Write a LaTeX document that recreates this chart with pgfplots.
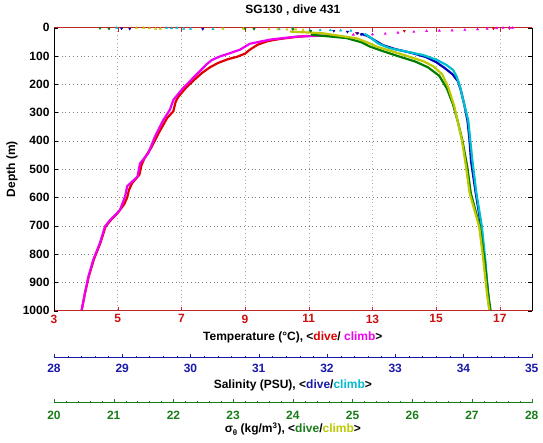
\documentclass[border=0pt]{standalone}
\usepackage{fontspec}
\setmainfont{Liberation Sans}[UprightFont=* Bold, BoldFont=* Bold]
\usepackage{pgfplots}
\pgfplotsset{compat=1.18}
\definecolor{tred}{RGB}{205,15,15}
\definecolor{taxis}{RGB}{190,40,40}
\definecolor{tdive}{RGB}{225,0,0}
\definecolor{tclimb}{RGB}{240,0,240}
\definecolor{sblue}{RGB}{25,25,170}
\definecolor{sdive}{RGB}{0,0,190}
\definecolor{scyan}{RGB}{0,190,205}
\definecolor{ggreen}{RGB}{25,125,25}
\definecolor{gdive}{RGB}{0,125,0}
\definecolor{gyellow}{RGB}{190,200,0}
\definecolor{tgrid}{RGB}{200,160,160}
\begin{document}
\begin{tikzpicture}[font=\bfseries\fontsize{12}{14}\selectfont]
\useasboundingbox (-54pt,-131.4pt) rectangle (489pt,310.6pt);
\pgfplotsset{common/.style={width=477.7pt,height=283pt,scale only axis,
  ymin=0,ymax=1000,y dir=reverse,at={(0,0)},anchor=south west,clip=false,
  /pgf/number format/assume math mode=true,
  /pgf/number format/1000 sep={},
  ticklabel style={font=\bfseries\fontsize{12}{14}\selectfont},
  label style={font=\bfseries\fontsize{12}{14}\selectfont},
  major tick length=4pt, minor tick length=2pt, tick align=inside}}
% ---------------- Temperature ----------------
\begin{axis}[common, xmin=3, xmax=18, xtick={3,5,...,17}, ytick={0,100,...,1000},
  xmajorgrids, ymajorgrids, separate axis lines,
  x axis line style={draw=taxis}, y axis line style={draw=black},
  xtick style={draw=taxis}, ytick style={draw=black},
  xticklabel style={text=tred, yshift=-0.5pt},
  yticklabel style={xshift=-1pt},
  major x grid style={draw=tgrid, dash pattern=on 0.8pt off 3pt},
  major y grid style={draw=gray, dash pattern=on 0.8pt off 3pt},
  xlabel={Temperature (°C), <\textcolor{tdive}{dive}/ \textcolor{tclimb}{climb}>},
  xlabel style={at={(axis description cs:0.5,0)}, anchor=center, yshift=-27pt},
  ylabel={Depth (m)},
  ylabel style={at={(axis description cs:-0.0879,0.5)}, anchor=center},
  title={SG130 , dive 431},
  title style={at={(axis description cs:0.5,1)}, anchor=center, yshift=11.6pt}]
\addplot[tdive, line width=2.2pt, line join=round] coordinates {
(11.0,29)(10.6,33)(10.1,40)(9.7,48)(9.4,60)(9.15,78)(9.0,92)(8.75,103)(8.45,112)
(8.15,125)(7.9,140)(7.65,160)(7.4,185)(7.15,212)(6.9,245)(6.82,262)(6.78,280)
(6.75,295)(6.55,320)(6.3,370)(6.05,425)(5.85,460)(5.75,485)(5.68,520)(5.45,550)
(5.35,575)(5.3,600)(5.2,625)(5.0,655)(4.8,678)(4.62,703)(4.46,760)(4.25,820)
(4.09,880)(3.97,940)(3.87,998)};
\addplot[tdive, only marks, mark=triangle*, mark size=1.3pt, mark options={rotate=180}] coordinates {
(17.3,2)(16.8,3)(14.0,12)(12.5,19)(11.6,25)};
\addplot[tclimb, line width=2.2pt, line join=round] coordinates {
(11.8,27)(10.6,32)(9.8,42)(9.15,57)(8.84,78)(8.53,90)(8.21,102)(7.95,115)(7.79,130)
(7.48,165)(7.06,213)(6.75,255)(6.64,290)(6.43,327)(6.17,385)(5.96,444)(5.70,480)
(5.62,527)(5.3,560)(5.23,597)(5.07,645)(4.76,680)(4.60,703)(4.44,762)(4.23,821)
(4.08,880)(3.97,939)(3.87,998)};
\addplot[tclimb, only marks, mark=triangle*, mark size=1.3pt] coordinates {
(12.4,25)(13.0,24)(13.4,22)(13.8,18)(14.3,15)(14.7,12)(15.1,11)(15.5,10)(15.9,8)
(16.3,6)(16.6,4)(16.9,2)(17.1,1)(17.3,0)(17.4,1)};
\end{axis}
% ---------------- Salinity ----------------
\begin{axis}[common, xmin=28, xmax=35, hide y axis, axis x line*=bottom,
  axis x line shift=47pt, x axis line style={-, draw=sblue},
  xtick={28,...,35}, minor x tick num=4, xtick style={draw=sblue},
  xticklabel style={text=sblue, yshift=-3pt},
  xlabel={Salinity (PSU), <\textcolor{sblue}{dive}/\textcolor{scyan}{climb}>},
  xlabel style={yshift=0pt}]
\addplot[sdive, line width=2.2pt, line join=round] coordinates {
(32.5,22)(32.6,30)(32.7,45)(32.82,62)(33.0,76)(33.25,90)(33.45,104)(33.6,122)
(33.72,142)(33.84,165)(33.92,190)(33.96,220)(34.01,270)(34.06,330)(34.09,400)
(34.11,470)(34.18,585)(34.26,703)(34.31,821)(34.36,939)(34.38,998)};
\addplot[sdive, only marks, mark=triangle*, mark size=1.3pt, mark options={rotate=180}] coordinates {
(28.99,3)(29.11,4)(30.18,5)(32.1,12)(32.3,15)(32.45,20)(32.5,24)};
\addplot[scyan, line width=2.2pt, line join=round] coordinates {
(32.55,22)(32.62,32)(32.75,56)(32.92,73)(33.17,85)(33.41,97)(33.61,114)(33.75,132)
(33.85,150)(33.90,173)(33.95,209)(34.02,280)(34.07,327)(34.10,397)(34.13,468)
(34.19,585)(34.27,703)(34.32,821)(34.36,939)(34.39,998)};
\addplot[scyan, only marks, mark=triangle*, mark size=1.3pt] coordinates {
(28.92,1)(29.65,1)(29.72,2)(29.8,1)(29.9,4)(30.0,4)(30.33,5)(31.3,6)(31.5,4)
(31.75,10)(31.9,9)(32.05,9)(32.2,10)(32.35,11)};
\end{axis}
% ---------------- Sigma theta ----------------
\begin{axis}[common, xmin=20, xmax=28, hide y axis, axis x line*=bottom,
  axis x line shift=92pt, x axis line style={-, draw=ggreen},
  xtick={20,...,28}, minor x tick num=4, xtick style={draw=ggreen},
  xticklabel style={text=ggreen, yshift=-5pt},
  xlabel={σ\raisebox{-0.45ex}{\fontsize{8}{9}\selectfont θ} (kg/m\textsuperscript{3}), <\textcolor{ggreen}{dive}/\textcolor{gyellow}{climb}>},
  xlabel style={yshift=4pt}]
\addplot[gdive, line width=2.2pt, line join=round] coordinates {
(24.3,25)(24.9,37)(25.15,52)(25.29,67)(25.52,84)(25.78,102)(26.05,120)(26.26,140)
(26.45,170)(26.58,215)(26.68,270)(26.76,330)(26.84,400)(26.92,491)(26.98,585)
(27.13,703)(27.21,821)(27.27,939)(27.31,998)};
\addplot[gdive, only marks, mark=triangle*, mark size=1.3pt, mark options={rotate=180}] coordinates {
(20.77,2)(20.92,4)(23.35,5)(23.2,4)(24.0,6)(24.3,12)};
\addplot[gyellow, line width=2.2pt, line join=round] coordinates {
(23.95,14)(24.5,20)(25.07,38)(25.29,56)(25.4,67)(25.68,85)(25.95,103)(26.2,120)
(26.36,138)(26.5,165)(26.6,210)(26.7,275)(26.76,330)(26.83,397)(26.9,491)
(26.96,585)(27.12,703)(27.19,821)(27.25,939)(27.29,998)};
\addplot[gyellow, only marks, mark=triangle*, mark size=1.3pt] coordinates {
(21.38,1)(21.5,1)(21.6,2)(21.7,4)(21.78,4)(22.83,4)(23.17,4)(23.6,6)(23.75,6)
(23.9,7)(24.05,6)(24.17,8)};
\end{axis}
\end{tikzpicture}
\end{document}
